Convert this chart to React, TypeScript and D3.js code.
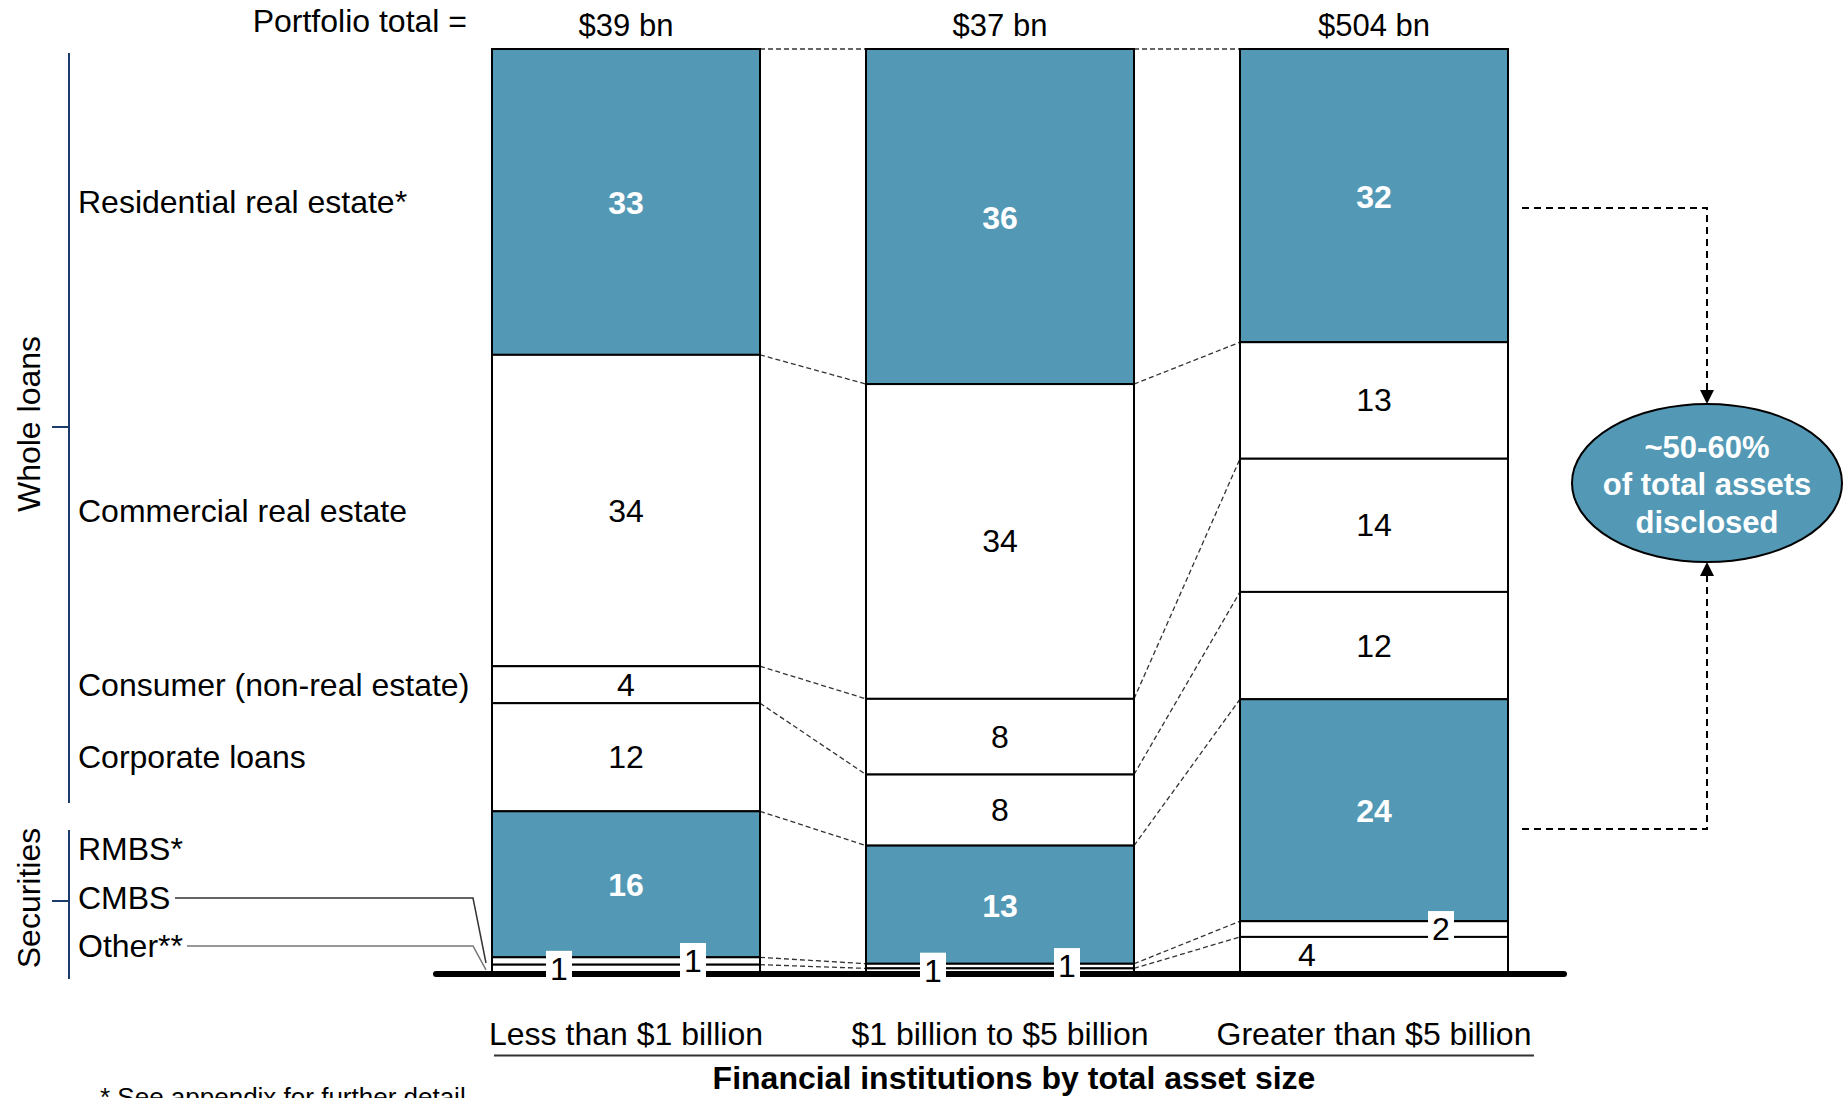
import React from 'react';
import * as d3 from 'd3';

const categories = ["Less than $1 billion", "$1 billion to $5 billion", "Greater than $5 billion"];
const portfolioTotals = ["$39 bn", "$37 bn", "$504 bn"];
const segmentKeys = ["residential", "commercial", "consumer", "corporate", "rmbs", "cmbs", "other"];
const segmentNames = ["Residential real estate*", "Commercial real estate", "Consumer (non-real estate)", "Corporate loans", "RMBS*", "CMBS", "Other**"];
const residential = [33.1, 36.3, 31.7];
const commercial = [33.7, 34.1, 12.6];
const consumer = [4.0, 8.2, 14.4];
const corporate = [11.7, 7.7, 11.6];
const rmbs = [15.8, 12.8, 24.0];
const cmbs = [0.8, 0.5, 1.7];
const other = [0.9, 0.5, 3.9];
const highlightedKeys = ["residential", "rmbs"];
const calloutLines = ["~50-60%", "of total assets", "disclosed"];

const W = 1843;
const H = 1098;
const BLUE = "#5399b6";
const NAVY = "#1d3a6c";
const FONT = "'Liberation Sans', Arial, Helvetica, sans-serif";

export default function App() {
  const seriesMap: Record<string, number[]> = { residential, commercial, consumer, corporate, rmbs, cmbs, other };
  const rows = categories.map((c, i) => {
    const r: any = { category: c };
    segmentKeys.forEach(k => { r[k] = seriesMap[k][i]; });
    return r;
  });
  const stackKeys = [...segmentKeys].reverse();
  const stacked = d3.stack<any>().keys(stackKeys).offset(d3.stackOffsetExpand)(rows);
  const layerByKey: Record<string, any> = {};
  stacked.forEach(l => { layerByKey[l.key] = l; });

  const x = d3.scaleBand<string>().domain(categories).range([492, 1508]).paddingInner(0.2834).paddingOuter(0);
  const y = d3.scaleLinear().domain([0, 1]).range([973, 49]);
  const bw = x.bandwidth();

  const labelFrac: Record<string, number> = { cmbs: 0.75, other: 0.25 };

  const rects: JSX.Element[] = [];
  const labels: JSX.Element[] = [];
  categories.forEach((c, i) => {
    const x0 = x(c)!;
    segmentKeys.forEach(k => {
      const d = layerByKey[k][i];
      const yTop = y(d[1]);
      const yBot = y(d[0]);
      const hl = highlightedKeys.includes(k);
      rects.push(
        <rect key={`r-${c}-${k}`} x={x0} y={yTop} width={bw} height={yBot - yTop}
          fill={hl ? BLUE : "#fff"} stroke="#000" strokeWidth={2} />
      );
      const val = seriesMap[k][i];
      const txt = String(Math.round(val));
      const cx = x0 + bw * (labelFrac[k] ?? 0.5);
      const cy = (yTop + yBot) / 2 + (hl ? 1 : 0);
      const small = yBot - yTop < 25;
      labels.push(
        <g key={`l-${c}-${k}`}>
          {small && <rect x={cx - 13} y={cy - 18} width={26} height={36} fill="#fff" />}
          <text x={cx} y={cy} textAnchor="middle" dominantBaseline="central"
            fontSize={32} fontWeight={hl ? "bold" : "normal"} fill={hl ? "#fff" : "#000"}>{txt}</text>
        </g>
      );
    });
  });

  const connectors: JSX.Element[] = [];
  for (let i = 0; i < categories.length - 1; i++) {
    const xa = x(categories[i])! + bw;
    const xb = x(categories[i + 1])!;
    segmentKeys.forEach((k) => {
      const ya = y(layerByKey[k][i][1]);
      const yb = y(layerByKey[k][i + 1][1]);
      connectors.push(<line key={`c-${i}-${k}`} x1={xa} y1={ya} x2={xb} y2={yb}
        stroke="#333" strokeWidth={1.3} strokeDasharray="5,3" />);
    });
  }

  const bar1 = categories[0];
  const leftLabelY = segmentKeys.map((k, idx) => {
    if (idx < 4) {
      const d = layerByKey[k][0];
      return (y(d[0]) + y(d[1])) / 2;
    }
    return [849, 898, 946][idx - 4];
  });
  const bar1Left = x(bar1)!;
  const cmbsC = (y(layerByKey["cmbs"][0][0]) + y(layerByKey["cmbs"][0][1])) / 2;
  const otherC = (y(layerByKey["other"][0][0]) + y(layerByKey["other"][0][1])) / 2;

  const bar3 = categories[2];
  const b3Right = x(bar3)! + bw;
  const ex = 1707, ey = 483, erx = 135, ery = 79;

  return (
    <svg width={W} height={H} style={{ position: 'absolute', left: 0, top: 0, background: '#fff' }}
      fontFamily={FONT}>
      <rect x={0} y={0} width={W} height={H} fill="#fff" />
      <text x={467} y={32} textAnchor="end" fontSize={32}>Portfolio total =</text>
      {categories.map((c, i) => (
        <text key={`t-${c}`} x={x(c)! + bw / 2} y={36} textAnchor="middle" fontSize={31}>{portfolioTotals[i]}</text>
      ))}

      <line x1={69} y1={53} x2={69} y2={803} stroke={NAVY} strokeWidth={2} />
      <line x1={52} y1={427} x2={69} y2={427} stroke={NAVY} strokeWidth={2} />
      <line x1={69} y1={830} x2={69} y2={979} stroke={NAVY} strokeWidth={2} />
      <line x1={52} y1={901} x2={69} y2={901} stroke={NAVY} strokeWidth={2} />
      <text transform="translate(29,424) rotate(-90)" textAnchor="middle" dominantBaseline="central" fontSize={32}>Whole loans</text>
      <text transform="translate(29,898) rotate(-90)" textAnchor="middle" dominantBaseline="central" fontSize={32}>Securities</text>

      {segmentNames.map((n, idx) => (
        <text key={`sn-${idx}`} x={78} y={leftLabelY[idx]} dominantBaseline="central" fontSize={32}>{n}</text>
      ))}

      <polyline points={`175,${leftLabelY[5]} ${bar1Left - 19},${leftLabelY[5]} ${bar1Left - 6},${cmbsC + 2}`} fill="none" stroke="#333" strokeWidth={1.5} />
      <polyline points={`187,${leftLabelY[6]} ${bar1Left - 19},${leftLabelY[6]} ${bar1Left - 6},${otherC + 1}`} fill="none" stroke="#777" strokeWidth={1.5} />

      {connectors}
      {rects}

      <line x1={436} y1={974} x2={1564} y2={974} stroke="#000" strokeWidth={6} strokeLinecap="round" />

      {labels}

      <path d={`M ${b3Right + 14} 208 H ${ex} V ${ey - ery - 12}`} fill="none" stroke="#000" strokeWidth={2} strokeDasharray="7,5" />
      <path d={`M ${ex} ${ey - ery} L ${ex - 7} ${ey - ery - 14} L ${ex + 7} ${ey - ery - 14} Z`} fill="#000" />
      <path d={`M ${b3Right + 14} 829 H ${ex} V ${ey + ery + 12}`} fill="none" stroke="#000" strokeWidth={2} strokeDasharray="7,5" />
      <path d={`M ${ex} ${ey + ery} L ${ex - 7} ${ey + ery + 14} L ${ex + 7} ${ey + ery + 14} Z`} fill="#000" />
      <ellipse cx={ex} cy={ey} rx={erx} ry={ery} fill={BLUE} stroke="#000" strokeWidth={2} />
      {calloutLines.map((t, i) => (
        <text key={`co-${i}`} x={ex} y={447 + i * 37.5} textAnchor="middle" dominantBaseline="central"
          fontSize={31} fontWeight="bold" fill="#fff">{t}</text>
      ))}

      {categories.map(c => (
        <text key={`cat-${c}`} x={x(c)! + bw / 2} y={1045} textAnchor="middle" fontSize={32}>{c}</text>
      ))}
      <line x1={494} y1={1055.5} x2={1534} y2={1055.5} stroke="#333" strokeWidth={2} />
      <text x={1014} y={1089} textAnchor="middle" fontSize={32} fontWeight="bold">Financial institutions by total asset size</text>

      <text x={100} y={1106} fontSize={26}>* See appendix for further detail</text>
    </svg>
  );
}
